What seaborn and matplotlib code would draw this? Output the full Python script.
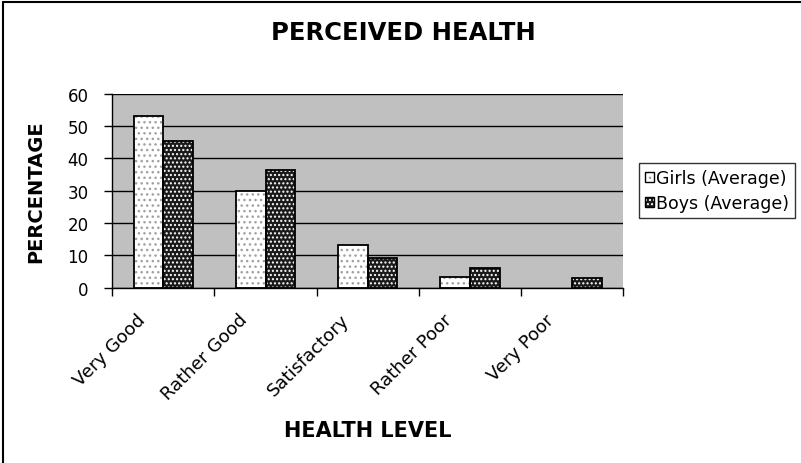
import matplotlib
matplotlib.use("Agg")
import matplotlib.pyplot as plt
import matplotlib.transforms as mtransforms
from matplotlib.lines import Line2D
from matplotlib.patches import Rectangle, Patch
from matplotlib.legend_handler import HandlerTuple
import numpy as np
import pandas as pd
import seaborn as sns

levels = ["Very Good", "Rather Good", "Satisfactory", "Rather Poor", "Very Poor"]
girls = [53.2, 29.8, 13.1, 3.4, 0.0]
boys = [45.4, 36.4, 9.1, 6.1, 3.0]
series = ["Girls (Average)", "Boys (Average)"]
yticks = [0, 10, 20, 30, 40, 50, 60]

df = pd.DataFrame({
    "level": levels * 2,
    "pct": girls + boys,
    "group": [series[0]] * len(levels) + [series[1]] * len(levels),
})

sns.set_theme(style="white")
plt.rcParams["font.family"] = ["DejaVu Sans"]
plt.rcParams["text.color"] = "black"
plt.rcParams["axes.labelcolor"] = "black"
plt.rcParams["xtick.color"] = "black"
plt.rcParams["ytick.color"] = "black"

W, H = 801, 464
fig = plt.figure(figsize=(W / 100, H / 100), dpi=100)
ax = fig.add_axes([112.3 / W, 1 - 288.5 / H, (623.3 - 112.3) / W, (288.5 - 94.7) / H])
ax.set_facecolor("#c0c0c0")

sns.barplot(data=df, x="level", y="pct", hue="group", order=levels,
            hue_order=series, width=0.58, ax=ax, legend=False,
            palette=["white", "#1a1a1a"], saturation=1)

styles = {
    series[0]: dict(face="white", hatch="...", hcol="#a0a0a0"),
    series[1]: dict(face="#1a1a1a", hatch="....", hcol="white"),
}
bars = [p for p in ax.patches if isinstance(p, Rectangle)]
for i, p in enumerate(bars):
    st = styles[series[i // len(levels)]]
    p.set_facecolor(st["face"])
    p.set_hatch(st["hatch"])
    p.set_edgecolor(st["hcol"])
    p.set_linewidth(0)
    if p.get_height() > 0:
        ax.add_patch(Rectangle((p.get_x(), p.get_y()), p.get_width(), p.get_height(),
                               facecolor="none", edgecolor="black", linewidth=1.3, zorder=3))

ax.set_ylim(0, 60)
ax.set_xlim(-0.5, len(levels) - 0.5)
ax.set_yticks(yticks)
ax.set_yticklabels([str(v) for v in yticks], fontsize=12)
ax.yaxis.grid(True, color="black", linewidth=1.0)
ax.set_axisbelow(True)
for s in ["top", "right"]:
    ax.spines[s].set_visible(False)
for s in ["left", "bottom"]:
    ax.spines[s].set_color("black")
    ax.spines[s].set_linewidth(1.0)
ax.tick_params(axis="y", length=6, width=1, color="black", left=True, pad=11)

ax.set_xticks(range(len(levels)))
ax.set_xticklabels(levels, fontsize=13, rotation=45, ha="right", va="center",
                   rotation_mode="anchor")
ax.tick_params(axis="x", which="major", length=0, pad=21)
shift = mtransforms.ScaledTranslation(-21 / 100, 0, fig.dpi_scale_trans)
for lab in ax.get_xticklabels():
    lab.set_transform(lab.get_transform() + shift)
ax.set_xticks(np.arange(-0.5, len(levels)), minor=True)
ax.tick_params(axis="x", which="minor", length=6, width=1, color="black", bottom=True)

ax.set_xlabel("HEALTH LEVEL", fontsize=15, fontweight="bold", va="center")
ax.set_ylabel("PERCENTAGE", fontsize=14, fontweight="bold", va="center")
ax.xaxis.set_label_coords(0.5, -(431 - 288.5) / (288.5 - 94.7), transform=ax.transAxes)
ax.yaxis.set_label_coords(-(112.3 - 36) / (623.3 - 112.3), 0.5)

fig.text(403 / W, 1 - 33 / H, "PERCEIVED HEALTH", ha="center", va="center",
         fontsize=17.5, fontweight="bold")

handles = []
for s in series:
    fill = Patch(facecolor=styles[s]["face"], hatch=styles[s]["hatch"],
                 edgecolor=styles[s]["hcol"], linewidth=0)
    edge = Patch(facecolor="none", edgecolor="black", linewidth=1.0)
    handles.append((fill, edge))
leg = fig.legend(handles, series, loc="upper left",
                 handler_map={tuple: HandlerTuple(ndivide=1, pad=0)},
                 bbox_to_anchor=(639 / W, 1 - 164 / H), frameon=True, fancybox=False,
                 edgecolor="black", fontsize=12.5, handlelength=0.5, handleheight=0.5,
                 handletextpad=0.12, borderpad=0.35, borderaxespad=0,
                 labelspacing=0.4)
leg.get_frame().set_linewidth(1.0)
leg._legend_box.sep = 0

fig.add_artist(Line2D([3 / W, 3 / W], [0, 1 - 3 / H], color="black", linewidth=1.5))
fig.add_artist(Line2D([3 / W, 1], [1 - 3 / H, 1 - 3 / H], color="black", linewidth=1.5))

fig.savefig("out.png", dpi=100)
